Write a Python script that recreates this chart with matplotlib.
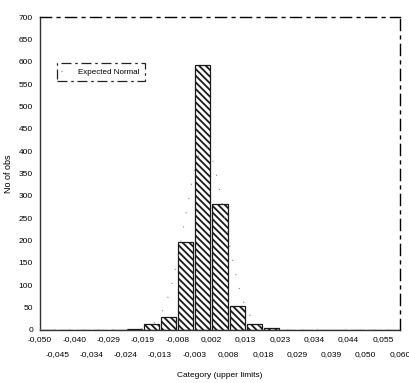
import numpy as np
import matplotlib
matplotlib.use("Agg")
import matplotlib.pyplot as plt

plt.rcParams['font.family'] = ['Liberation Sans Narrow', 'Liberation Sans', 'DejaVu Sans']

# Hranice tříd (horní meze) a počty pozorování
hranice = [-0.050, -0.045, -0.040, -0.034, -0.029, -0.024, -0.019, -0.013,
           -0.008, -0.003, 0.002, 0.008, 0.013, 0.018, 0.023, 0.029,
           0.034, 0.039, 0.044, 0.050, 0.055, 0.060]
popisky = ["-0,050", "-0,045", "-0,040", "-0,034", "-0,029", "-0,024", "-0,019", "-0,013",
           "-0,008", "-0,003", "0,002", "0,008", "0,013", "0,018", "0,023", "0,029",
           "0,034", "0,039", "0,044", "0,050", "0,055", "0,060"]
pocty = [0, 1, 1, 0, 1, 3, 13, 30, 197, 593, 281, 54, 13, 4, 1, 1, 0, 1, 0, 1, 0]

# Parametry očekávaného normálního rozdělení
stred = 0.0004
smer_odch = 0.0061

hrany = np.linspace(-0.050, 0.060, len(hranice))
sirka = hrany[1] - hrany[0]
stredy = hrany[:-1] + sirka / 2

fig = plt.figure(figsize=(4.10, 3.83), dpi=100)
ax = fig.add_axes([40 / 410, 53 / 383, 360 / 410, 313 / 383])

plt.rcParams['hatch.linewidth'] = 1.3
ax.bar(stredy, pocty, width=sirka * 0.88, color="white", edgecolor="#1a1a1a",
       hatch="\\\\\\\\\\", linewidth=0.9, zorder=2)

# Očekávaná normální křivka
xs = np.linspace(-0.050, 0.060, 400)
n = sum(pocty)
ys = n * sirka / (smer_odch * np.sqrt(2 * np.pi)) * np.exp(-0.5 * ((xs - stred) / smer_odch) ** 2)
ax.plot(xs, ys, color="#888888", linestyle=(0, (1, 12)), linewidth=0.8, zorder=3,
        label="Expected Normal")

ax.set_xlim(-0.050, 0.060)
ax.set_ylim(0, 700)
ax.set_yticks(range(0, 701, 50))
ax.tick_params(axis="y", labelsize=6, length=0, pad=5)

ax.set_xticks(hrany[0::2], popisky[0::2])
ax.set_xticks(hrany[1::2], popisky[1::2], minor=True)
ax.tick_params(axis="x", which="major", labelsize=6, length=0, pad=4)
ax.tick_params(axis="x", which="minor", labelsize=6, length=0, pad=15)

ax.set_xlabel("Category (upper limits)", fontsize=6, labelpad=10)
ax.set_ylabel("No of obs", fontsize=6.5, labelpad=4)

for s in ["top", "right"]:
    ax.spines[s].set_linestyle((0, (8, 4, 2, 4)))
    ax.spines[s].set_linewidth(1.0)
for s in ["left", "bottom"]:
    ax.spines[s].set_linewidth(1.0)
    ax.spines[s].set_color("#333333")

leg = ax.legend(loc="upper left", bbox_to_anchor=(0.035, 0.865), fontsize=5.8,
                fancybox=False, edgecolor="#222222", handlelength=1.6,
                handletextpad=0.5, borderpad=0.6, framealpha=1)
leg.get_frame().set_linestyle((0, (8, 3, 2, 3)))
leg.get_frame().set_linewidth(0.9)

fig.savefig("out.png", dpi=100)
